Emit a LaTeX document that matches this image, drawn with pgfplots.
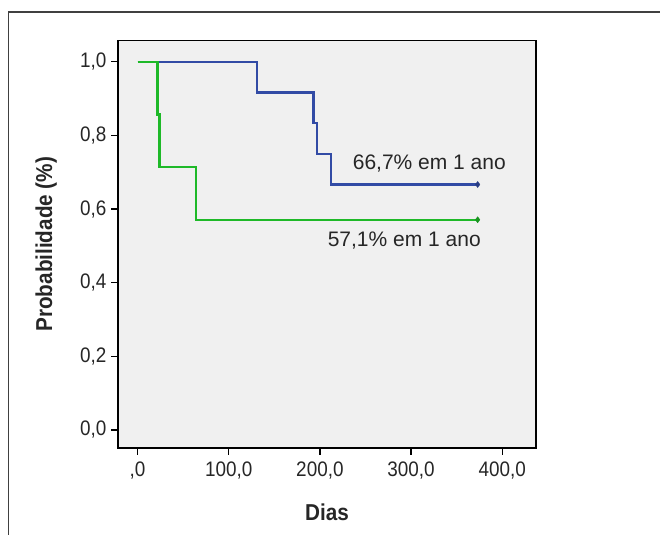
\documentclass[border=0pt]{standalone}
\usepackage{fontspec}
\setmainfont{Liberation Sans}
\newfontfamily\narrowfont[FakeStretch=0.9]{Liberation Sans}
\usepackage{pgfplots}
\pgfplotsset{compat=1.18}
\definecolor{kmblue}{RGB}{50,75,165}
\definecolor{kmgreen}{RGB}{30,185,40}
\definecolor{bgfill}{RGB}{240,240,240}
\begin{document}
\begin{tikzpicture}[x=1bp,y=1bp]
\useasboundingbox (0,0) rectangle (660,535);
\draw[line width=1.5bp, black!75] (8.5,0) -- (8.5,523) -- (660,523);
\begin{axis}[
  at={(118bp,87bp)}, anchor=south west,
  scale only axis, width=418bp, height=407.5bp,
  xmin=-21.4, xmax=437, ymin=-0.049, ymax=1.058,
  axis background/.style={fill=bgfill},
  axis line style={line width=1.3bp, black},
  xtick={0,100,200,300,400},
  xticklabels={{,0},{100,0},{200,0},{300,0},{400,0}},
  ytick={0,0.2,0.4,0.6,0.8,1.0},
  yticklabels={{0,0},{0,2},{0,4},{0,6},{0,8},{1,0}},
  xtick pos=bottom, ytick pos=left,
  tick align=outside, major tick length=7bp,
  tick style={black, line width=1.3bp},
  ticklabel style={font=\narrowfont\fontsize{21bp}{25bp}\selectfont, text=black!85},
  xticklabel style={yshift=-3bp},
  yticklabel style={xshift=-1bp},
  xlabel={\textbf{Dias}},
  ylabel={\textbf{Probabilidade (\%)}},
  label style={font=\narrowfont\fontsize{23bp}{27bp}\selectfont, text=black!85},
  xlabel style={at={(axis description cs:0.5,-0.179)}, anchor=base},
  ylabel style={at={(axis description cs:-0.172,0.5)}, anchor=center, rotate=0},
  clip=false,
]
\addplot[kmblue, line width=2.2bp] coordinates {
  (0,1) (131,1) (131,0.9167) (193,0.9167) (193,0.8333) (196.5,0.8333)
  (196.5,0.75) (212,0.75) (212,0.6667) (373,0.6667)};
\addplot[kmgreen, line width=2.2bp] coordinates {
  (0,1) (22,1) (22,0.857) (24,0.857) (24,0.714) (64,0.714) (64,0.571) (373,0.571)};
\addplot[only marks, mark=diamond*, mark size=3bp, kmblue!80!black] coordinates {(373,0.6667)};
\addplot[only marks, mark=diamond*, mark size=3bp, kmgreen!80!black] coordinates {(373,0.571)};
\node[anchor=base, font=\fontsize{21bp}{25bp}\selectfont, text=black!85] at (axis cs:320,0.7065) {66,7\% em 1 ano};
\node[anchor=base, font=\fontsize{21bp}{25bp}\selectfont, text=black!85] at (axis cs:292.5,0.498) {57,1\% em 1 ano};
\end{axis}
\end{tikzpicture}
\end{document}
